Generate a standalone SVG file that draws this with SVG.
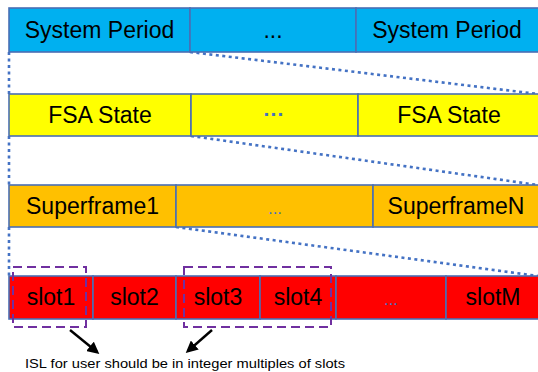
<svg xmlns="http://www.w3.org/2000/svg" width="538" height="372" viewBox="0 0 538 372">
<style>
.cell{stroke:#4A6FB5;stroke-width:1.6}
.sp{fill:#00B0F0}
.fsa{fill:#FFFF00}
.sf{fill:#FFC000}
.sl{fill:#FF0000}
.t{font-family:"Liberation Sans",Arial,sans-serif;font-size:23px;fill:#000;text-anchor:middle}
.dots{font-family:"Liberation Sans",Arial,sans-serif;font-size:21px;fill:#4472C4;text-anchor:middle;font-weight:bold}
.con{fill:none;stroke:#4472C4;stroke-width:2.6;stroke-dasharray:3 3.5}
.isl{fill:none;stroke:#7030A0;stroke-width:2;stroke-dasharray:9 5}
.arr{stroke:#000;stroke-width:2.4;fill:none}
.note{font-family:"Liberation Sans",Arial,sans-serif;font-size:13.5px;fill:#000}
</style>
<defs>
<marker id="ah" markerWidth="12" markerHeight="12" refX="9" refY="6" orient="auto" markerUnits="userSpaceOnUse" viewBox="0 0 12 12">
<path d="M0,0 L12,6 L0,12 z" fill="#000"/>
</marker>
</defs>
<g id="connectors">
<line class="con" x1="9" y1="52" x2="9" y2="94"/>
<line class="con" x1="190" y1="52" x2="538" y2="94"/>
<line class="con" x1="9" y1="136" x2="9" y2="185"/>
<line class="con" x1="191" y1="136" x2="538" y2="185"/>
<line class="con" x1="9" y1="227" x2="9" y2="276"/>
<line class="con" x1="176" y1="227" x2="538" y2="276"/>
<line class="arr" x1="70" y1="330" x2="97" y2="352" marker-end="url(#ah)"/>
<line class="arr" x1="212" y1="330" x2="188" y2="351" marker-end="url(#ah)"/>
</g>
<g id="row-system-period">
<g id="sp1"><rect class="cell sp" x="9" y="8" width="181" height="44"/><text class="t" x="99.5" y="38">System Period</text></g>
<g id="sp2"><rect class="cell sp" x="190" y="8" width="166" height="44"/><text class="t" x="273" y="38">...</text></g>
<g id="sp3"><rect class="cell sp" x="356" y="8" width="184" height="44"/><text class="t" x="447" y="38">System Period</text></g>
</g>
<g id="row-fsa">
<g id="fsa1"><rect class="cell fsa" x="9" y="94" width="182" height="42"/><text class="t" x="100" y="123">FSA State</text></g>
<g id="fsa2"><rect class="cell fsa" x="191" y="94" width="167" height="42"/><text class="dots" x="274" y="121">···</text></g>
<g id="fsa3"><rect class="cell fsa" x="358" y="94" width="182" height="42"/><text class="t" x="449" y="123">FSA State</text></g>
</g>
<g id="row-superframe">
<g id="sf1"><rect class="cell sf" x="9" y="185" width="167" height="42"/><text class="t" x="92.5" y="214">Superframe1</text></g>
<g id="sf2"><rect class="cell sf" x="176" y="185" width="197" height="42"/><text class="dots" x="275" y="214" style="font-weight:normal;font-size:17px">...</text></g>
<g id="sf3"><rect class="cell sf" x="373" y="185" width="167" height="42"/><text class="t" x="456" y="214">SuperframeN</text></g>
</g>
<g id="row-slots">
<g id="slot1"><rect class="cell sl" x="9" y="276" width="84" height="43"/><text class="t" x="51" y="305">slot1</text></g>
<g id="slot2"><rect class="cell sl" x="93" y="276" width="83" height="43"/><text class="t" x="134.5" y="305">slot2</text></g>
<g id="slot3"><rect class="cell sl" x="176" y="276" width="84" height="43"/><text class="t" x="218" y="305">slot3</text></g>
<g id="slot4"><rect class="cell sl" x="260" y="276" width="76" height="43"/><text class="t" x="298" y="305">slot4</text></g>
<g id="slot-dots"><rect class="cell sl" x="336" y="276" width="110" height="43"/><text class="dots" x="391" y="305" style="font-weight:normal;font-size:17px">...</text></g>
<g id="slotM"><rect class="cell sl" x="446" y="276" width="94" height="43"/><text class="t" x="493" y="305">slotM</text></g>
</g>
<g id="isl-groups">
<rect class="isl" x="13" y="267" width="73" height="60"/>
<rect class="isl" x="184" y="267" width="147" height="60"/>
</g>
<g id="note">
<text class="note" x="25" y="368" textLength="320" lengthAdjust="spacingAndGlyphs">ISL for user should be in integer multiples of slots</text>
</g>
</svg>
